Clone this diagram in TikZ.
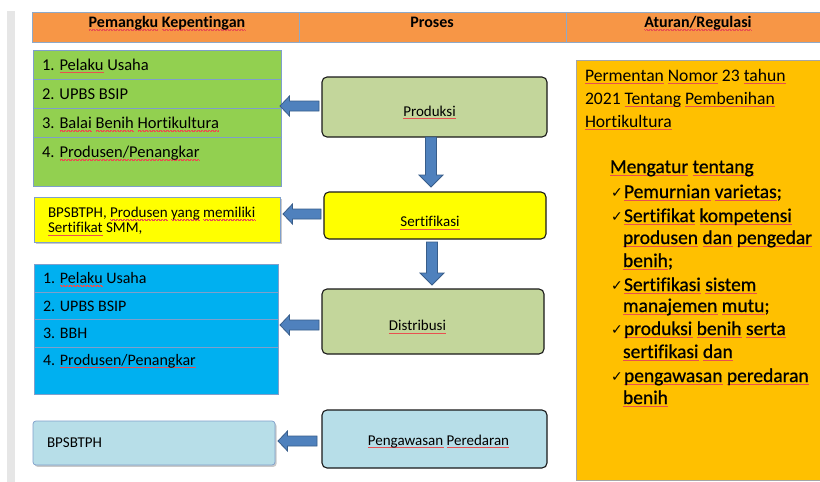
\documentclass[tikz,border=0pt]{standalone}
\usepackage{fontspec}
\setmainfont{Carlito}[Ligatures=NoCommon]
\newfontfamily\medfont{Carlito}[Ligatures=NoCommon, FakeBold=0.7]
\newfontfamily\dejavu{DejaVu Sans}
\usetikzlibrary{calc,shadows}
\definecolor{hdr}{HTML}{F79646}
\definecolor{hdrline}{HTML}{8EA9C8}
\definecolor{grn}{HTML}{92D050}
\definecolor{olive}{HTML}{C3D69B}
\definecolor{ylw}{HTML}{FFFF00}
\definecolor{cyanb}{HTML}{00B0F0}
\definecolor{ltblue}{HTML}{B7DEE8}
\definecolor{gold}{HTML}{FFC000}
\definecolor{arrfill}{HTML}{4F81BD}
\definecolor{arrline}{HTML}{385D8A}
\definecolor{listline}{HTML}{7F9FCB}
\definecolor{graybar}{HTML}{E6E6E6}
\definecolor{squig}{HTML}{E85050}
\newsavebox\sqbox
\newcommand\sq[1]{\sbox\sqbox{#1}\rlap{\textcolor{squig}{\hbox to\wd\sqbox{\xleaders\hbox{\rule[-2.3pt]{0.7pt}{0.4pt}\rule[-2.8pt]{0.7pt}{0.4pt}}\hfil}}}\usebox\sqbox}
\newcommand\fs[1]{\fontsize{#1}{#1}\selectfont}
\newcommand\chk{{\dejavu\fs{14}\char"2713}}
\tikzset{
  box/.style={rectangle, inner sep=0, outer sep=0, anchor=north west},
  hcell/.style={box, fill=hdr, draw=hdrline, line width=0.6pt, minimum height=30pt},
  listbox/.style={box, draw=listline, line width=0.6pt},
  rowline/.style={draw=listline, line width=0.6pt},
  procbox/.style={box, rounded corners=5pt, draw=black!90, line width=1.1pt},
  shbox/.style={box, draw=listline, line width=0.7pt, drop shadow={shadow xshift=1.5pt, shadow yshift=-1.8pt, opacity=0.35, fill=black!60}},
  txt/.style={anchor=base west, inner sep=0, outer sep=0, text=black},
  ctxt/.style={anchor=base, inner sep=0, outer sep=0, text=black},
  blockarr/.style={fill=arrfill, draw=arrline, line width=0.8pt, line join=miter},
  larrow/.style={blockarr, to path={let \p1=(\tikztostart), \p2=(\tikztotarget) in
     (\x1,\y1+5pt) -- (\x2+9.5pt,\y1+5pt) -- (\x2+9.5pt,\y1+10pt) -- (\x2,\y1)
     -- (\x2+9.5pt,\y1-10pt) -- (\x2+9.5pt,\y1-5pt) -- (\x1,\y1-5pt) -- cycle}},
  darrow/.style={blockarr, to path={let \p1=(\tikztostart), \p2=(\tikztotarget) in
     (\x1-5.5pt,\y1) -- (\x1-5.5pt,\y2+12pt) -- (\x1-12pt,\y2+12pt) -- (\x1,\y2)
     -- (\x1+12pt,\y2+12pt) -- (\x1+5.5pt,\y2+12pt) -- (\x1+5.5pt,\y1) -- cycle}},
}
\begin{document}
\begin{tikzpicture}[x=1pt,y=-1pt]
\useasboundingbox[fill=white] (0,0) rectangle (820,482);
% left grey bar
\fill[graybar] (7,11) rectangle (15,482);
% header
\node[hcell, minimum width=267pt] (h1) at (32,12) {};
\node[hcell, minimum width=267pt] (h2) at (299,12) {};
\node[hcell, minimum width=256pt] (h3) at (566,12) {};
\node[ctxt, font=\bfseries\fs{16}] (h1t) at (167,27.5) {\sq{Pemangku} \sq{Kepentingan}};
\node[ctxt, font=\bfseries\fs{16}] (h2t) at (432,27.5) {Proses};
\node[ctxt, font=\bfseries\fs{16}] (h3t) at (698,27.5) {\sq{Aturan/Regulasi}};
% green list
\node[listbox, fill=grn, minimum width=248pt, minimum height=136pt] (green) at (33,50) {};
\draw[rowline] (33,79) -- (281,79) (33,108) -- (281,108) (33,137) -- (281,137);
\begin{scope}[every node/.style={txt, font=\fs{16.5}}]
\node (g1) at (42,70) {1. \sq{Pelaku} Usaha};
\node (g2) at (42,99.5) {2. UPBS BSIP};
\node (g3) at (42,128.3) {3. \sq{Balai} \sq{Benih} \sq{Hortikultura}};
\node (g4) at (42,157.3) {4. \sq{Produsen/Penangkar}};
\end{scope}
% yellow box
\node[shbox, fill=ylw, minimum width=246pt, minimum height=45pt] (yel) at (34,197) {};
\node[txt, font=\fs{15}] (y1) at (48,217.3) {BPSBTPH, \sq{Produsen} \sq{yang} \sq{memiliki}};
\node[txt, font=\fs{15}] (y2) at (48,232.7) {\sq{Sertifikat} SMM,};
% blue list
\node[listbox, fill=cyanb, minimum width=244pt, minimum height=130pt] (blue) at (34,264) {};
\draw[rowline] (34,292) -- (278,292) (34,319) -- (278,319) (34,347) -- (278,347);
\begin{scope}[every node/.style={txt, font=\fs{16}}]
\node (b1) at (43,283.3) {1. \sq{Pelaku} Usaha};
\node (b2) at (43,311.7) {2. UPBS BSIP};
\node (b3) at (43,338.3) {3. BBH};
\node (b4) at (43,365) {4. \sq{Produsen/Penangkar}};
\end{scope}
% BPSBTPH box
\node[shbox, rounded corners=3pt, fill=ltblue, minimum width=242pt, minimum height=44pt] (bps) at (33,421) {};
\node[txt, font=\fs{15}] (bpst) at (47,447) {BPSBTPH};
% process boxes
\node[procbox, fill=olive, minimum width=225pt, minimum height=60pt] (prod) at (322,77) {};
\node[procbox, fill=ylw, minimum width=222pt, minimum height=47pt] (sert) at (324,192) {};
\node[procbox, fill=olive, minimum width=222pt, minimum height=65pt] (dist) at (322,289) {};
\node[procbox, fill=ltblue, minimum width=225pt, minimum height=58pt] (peng) at (322,410) {};
\node[ctxt, font=\fs{15}] (prodt) at (429.5,116) {\sq{Produksi}};
\node[ctxt, font=\fs{15}] (sertt) at (430,226.7) {\sq{Sertifikasi}};
\node[ctxt, font=\fs{15}] (distt) at (417.5,330.7) {\sq{Distribusi}};
\node[ctxt, font=\fs{15}] (pengt) at (438.5,445) {\sq{Pengawasan} \sq{Peredaran}};
% arrows
\draw[larrow] ([xshift=-3pt,yshift=1pt]prod.west) to ([xshift=-1pt]green.east);
\draw[larrow] ([xshift=-3pt,yshift=1.5pt]sert.west) to ([xshift=3pt]yel.east);
\draw[larrow] ([xshift=-3pt,yshift=-3.5pt]dist.west) to ([xshift=2pt]dist.west -| blue.east);
\draw[larrow] ([xshift=-5pt,yshift=-2pt]peng.west) to ([xshift=3pt]bps.east);
\draw[darrow] ([xshift=-3.5pt]prod.south) to ([yshift=5pt]sert.north);
\draw[darrow] ([xshift=-3pt,yshift=-3pt]sert.south) to ([yshift=4pt]dist.north);
% regulation box
\node[box, fill=gold, draw=black!35, line width=0.8pt, minimum width=248pt, minimum height=420pt] (reg) at (576,60) {};
\begin{scope}[every node/.style={txt, font=\fs{17.6}}]
\node (r1) at (585,81) {\sq{Permentan} \sq{Nomor} 23 \sq{tahun}};
\node (r2) at (585,104) {2021 \sq{Tentang} \sq{Pembenihan}};
\node (r3) at (585,127) {\sq{Hortikultura}};
\end{scope}
\begin{scope}[every node/.style={txt, font=\medfont\fs{19.5}}]
\node (m0) at (610,173) {\sq{Mengatur} \sq{tentang}};
\node (m1) at (624,198) {\sq{Pemurnian} \sq{varietas};};
\node (m2) at (624,222) {\sq{Sertifikat} \sq{kompetensi}};
\node (m3) at (623,244) {\sq{produsen} \sq{dan} \sq{pengedar}};
\node (m4) at (623,267) {\sq{benih};};
\node (m5) at (624,291) {\sq{Sertifikasi} \sq{sistem}};
\node (m6) at (623,312) {\sq{manajemen} \sq{mutu};};
\node (m7) at (624,335) {\sq{produksi} \sq{benih} \sq{serta}};
\node (m8) at (623,358) {\sq{sertifikasi} \sq{dan}};
\node (m9) at (624,382) {\sq{pengawasan} \sq{peredaran}};
\node (m10) at (623,404) {\sq{benih}};
\node (c1) at (611,197) {\chk};
\node (c2) at (611,221) {\chk};
\node (c3) at (611,290) {\chk};
\node (c4) at (611,334) {\chk};
\node (c5) at (611,381) {\chk};
\end{scope}
\end{tikzpicture}
\end{document}
